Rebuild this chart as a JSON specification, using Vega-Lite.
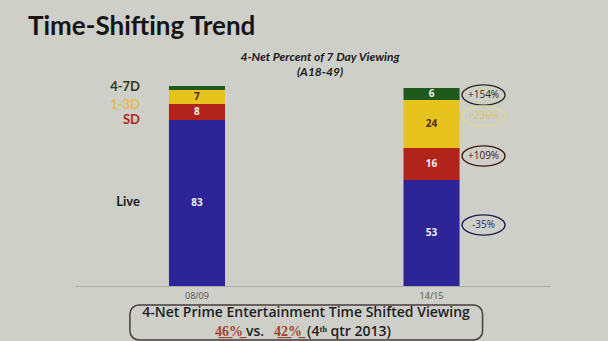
{
  "$schema": "https://vega.github.io/schema/vega-lite/v6.json",
  "width": 475,
  "height": 200,
  "autosize": {"type": "none"},
  "padding": {"left": 75, "right": 58, "top": 86, "bottom": 55},
  "background": "#cecfc9",
  "config": {
    "view": {"stroke": null},
    "font": "Open Sans",
    "axisX": {"labelFontSize": 9, "labelColor": "#555555", "ticks": false, "domainColor": "#a9aaa4", "labelPadding": 5, "labelAngle": 0, "labelFont": "Open Sans"},
    "axisY": {"disable": true}
  },
  "title": {
    "text": "Time-Shifting Trend",
    "anchor": "start",
    "frame": "group",
    "font": "Lato",
    "fontSize": 26,
    "fontWeight": "bold",
    "color": "#151515",
    "dx": -47,
    "offset": -10,
    "baseline": "alphabetic"
  },
  "data": {
    "values": [
      {"period": "08/09", "segment": "Live", "value": 83},
      {"period": "08/09", "segment": "SD", "value": 8},
      {"period": "08/09", "segment": "1-3D", "value": 7},
      {"period": "08/09", "segment": "4-7D", "value": 2},
      {"period": "14/15", "segment": "Live", "value": 53, "change": "-35%"},
      {"period": "14/15", "segment": "SD", "value": 16, "change": "+109%"},
      {"period": "14/15", "segment": "1-3D", "value": 24, "change": "+236%"},
      {"period": "14/15", "segment": "4-7D", "value": 6, "change": "+154%"}
    ]
  },
  "transform": [
    {"calculate": "indexof(['Live','SD','1-3D','4-7D'], datum.segment)", "as": "order"},
    {"stack": "value", "groupby": ["period"], "sort": [{"field": "order", "order": "ascending"}], "as": ["y0", "y1"]},
    {"calculate": "(datum.y0 + datum.y1) / 2", "as": "mid"}
  ],
  "layer": [
    {
      "mark": {"type": "bar"},
      "encoding": {
        "x": {"field": "period", "type": "nominal", "title": null, "scale": {"type": "band", "paddingInner": 0.761, "paddingOuter": 0.393, "align": 0.5095}},
        "y": {"field": "y1", "type": "quantitative", "scale": {"domain": [0, 100], "nice": false}},
        "y2": {"field": "y0"},
        "color": {"field": "segment", "type": "nominal", "legend": null, "scale": {"domain": ["Live", "SD", "1-3D", "4-7D"], "range": ["#2d2497", "#b1231b", "#e6c41d", "#1e5a1c"]}}
      }
    },
    {
      "transform": [{"filter": "datum.value >= 5"}],
      "mark": {"type": "text", "fontSize": 10, "fontWeight": "bold", "baseline": "middle"},
      "encoding": {
        "x": {"field": "period", "type": "nominal", "title": null},
        "y": {"field": "mid", "type": "quantitative"},
        "text": {"field": "value"},
        "color": {"condition": {"test": "datum.segment === '1-3D'", "value": "#4a2a10"}, "value": "#eeeeee"}
      }
    },
    {
      "transform": [{"filter": "datum.period === '08/09' && (datum.segment === '4-7D' || datum.segment === 'Live')"}],
      "mark": {"type": "text", "font": "Lato", "fontSize": 13, "fontWeight": "bold", "align": "right", "baseline": "middle", "dx": -57, "dy": -1},
      "encoding": {
        "x": {"field": "period", "type": "nominal", "title": null},
        "y": {"field": "mid", "type": "quantitative"},
        "text": {"field": "segment"},
        "color": {"condition": {"test": "datum.segment === '4-7D'", "value": "#2c3a1c"}, "value": "#1c1c1c"}
      }
    },
    {
      "transform": [{"filter": "datum.period === '08/09' && (datum.segment === '1-3D' || datum.segment === 'SD')"}],
      "mark": {"type": "text", "font": "Lato", "fontSize": 13, "fontWeight": "bold", "align": "right", "baseline": "middle", "dx": -57, "dy": 7.5},
      "encoding": {
        "x": {"field": "period", "type": "nominal", "title": null},
        "y": {"field": "mid", "type": "quantitative"},
        "text": {"field": "segment"},
        "color": {"condition": {"test": "datum.segment === '1-3D'", "value": "#e3bb52"}, "value": "#b02a1a"}
      }
    },
    {
      "transform": [{"filter": "datum.period === '14/15' && datum.segment === '4-7D'"}],
      "mark": {"type": "point", "shape": "M -1 0 A 1 0.47 0 1 1 1 0 A 1 0.47 0 1 1 -1 0 Z", "size": 1849, "filled": false, "strokeWidth": 1.4, "opacity": 1, "xOffset": 52, "yOffset": 1},
      "encoding": {
        "x": {"field": "period", "type": "nominal", "title": null},
        "y": {"field": "mid", "type": "quantitative"},
        "color": {"value": "#2a2a1e"}
      }
    },
    {
      "transform": [{"filter": "datum.period === '14/15' && datum.segment === '4-7D'"}],
      "mark": {"type": "text", "fontSize": 10, "baseline": "middle", "dx": 52, "dy": 1},
      "encoding": {
        "x": {"field": "period", "type": "nominal", "title": null},
        "y": {"field": "mid", "type": "quantitative"},
        "text": {"field": "change"},
        "color": {"value": "#2e2e22"}
      }
    },
    {
      "transform": [{"filter": "datum.period === '14/15' && datum.segment !== '4-7D'"}],
      "mark": {"type": "point", "shape": "M -1 0 A 1 0.47 0 1 1 1 0 A 1 0.47 0 1 1 -1 0 Z", "size": 1849, "filled": false, "strokeWidth": 1.4, "opacity": 1, "xOffset": 52, "yOffset": -8},
      "encoding": {
        "x": {"field": "period", "type": "nominal", "title": null},
        "y": {"field": "mid", "type": "quantitative"},
        "color": {"condition": [{"test": "datum.segment === '1-3D'", "value": "#e2d892"}, {"test": "datum.segment === 'SD'", "value": "#3e1a10"}], "value": "#1c1c50"}
      }
    },
    {
      "transform": [{"filter": "datum.period === '14/15' && datum.segment !== '4-7D'"}],
      "mark": {"type": "text", "fontSize": 10, "baseline": "middle", "dx": 52, "dy": -8},
      "encoding": {
        "x": {"field": "period", "type": "nominal", "title": null},
        "y": {"field": "mid", "type": "quantitative"},
        "text": {"field": "change"},
        "color": {"condition": [{"test": "datum.segment === '1-3D'", "value": "#dcc55e"}, {"test": "datum.segment === 'SD'", "value": "#4a1c10"}], "value": "#27276a"}
      }
    },
    {
      "transform": [{"filter": "datum.period === '08/09' && datum.segment === 'Live'"}],
      "mark": {"type": "text", "font": "Lato", "fontSize": 12, "fontWeight": "bold", "fontStyle": "italic", "baseline": "alphabetic", "lineHeight": 15, "dx": 7.5, "dy": -25, "color": "#1a1a1a",
        "text": ["4-Net Percent of 7 Day Viewing", "(A18-49)"]},
      "encoding": {
        "y": {"datum": 100}
      }
    },
    {
      "transform": [{"filter": "datum.period === '08/09' && datum.segment === 'Live'"}],
      "mark": {"type": "rect", "fill": "transparent", "stroke": "#4a3c3c", "strokeWidth": 1.5, "cornerRadius": 9, "xOffset": -39, "x2Offset": 23, "yOffset": 19, "y2Offset": 54},
      "encoding": {
        "x": {"datum": "08/09", "bandPosition": 0},
        "x2": {"datum": "14/15", "bandPosition": 1},
        "y": {"datum": 0},
        "y2": {"datum": 0}
      }
    },
    {
      "transform": [{"filter": "datum.period === '08/09' && datum.segment === 'Live'"}],
      "mark": {"type": "text", "fontSize": 14, "fontWeight": 600, "baseline": "alphabetic", "dx": -6.5, "dy": 31, "color": "#1e1e1e", "text": "4-Net Prime Entertainment Time Shifted Viewing"},
      "encoding": {"y": {"datum": 0}}
    },
    {
      "transform": [{"filter": "datum.period === '08/09' && datum.segment === 'Live'"}],
      "mark": {"type": "text", "fontSize": 14, "fontWeight": 600, "baseline": "alphabetic", "align": "right", "dx": -69.5, "dy": 50, "color": "#a2432c", "text": "4\u03326\u0332%\u0332"},
      "encoding": {"y": {"datum": 0}}
    },
    {
      "transform": [{"filter": "datum.period === '08/09' && datum.segment === 'Live'"}],
      "mark": {"type": "text", "fontSize": 14, "fontWeight": 600, "baseline": "alphabetic", "align": "center", "dx": -57.5, "dy": 50, "color": "#1e1e1e", "text": "vs."},
      "encoding": {"y": {"datum": 0}}
    },
    {
      "transform": [{"filter": "datum.period === '08/09' && datum.segment === 'Live'"}],
      "mark": {"type": "text", "fontSize": 14, "fontWeight": 600, "baseline": "alphabetic", "align": "center", "dx": -24.5, "dy": 50, "color": "#a2432c", "text": "4\u03322\u0332%\u0332"},
      "encoding": {"y": {"datum": 0}}
    },
    {
      "transform": [{"filter": "datum.period === '08/09' && datum.segment === 'Live'"}],
      "mark": {"type": "text", "fontSize": 14, "fontWeight": 600, "baseline": "alphabetic", "align": "left", "dx": -5.5, "dy": 50, "color": "#1e1e1e", "text": "(4\u1d57\u02b0 qtr 2013)"},
      "encoding": {"y": {"datum": 0}}
    }
  ]
}
